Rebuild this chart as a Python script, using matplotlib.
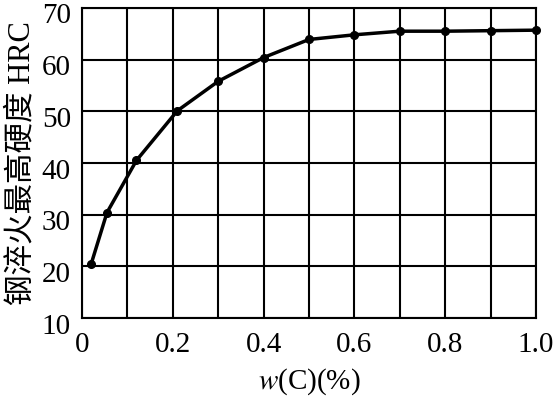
import matplotlib
matplotlib.use("Agg")
import matplotlib.pyplot as plt
from matplotlib.ticker import MultipleLocator
from matplotlib.transforms import ScaledTranslation

carbon = [0.02, 0.055, 0.12, 0.21, 0.30, 0.40, 0.50, 0.60, 0.70, 0.80, 0.90, 1.00]
hardness = [20.4, 30.4, 40.5, 50.1, 55.8, 60.4, 63.9, 64.8, 65.5, 65.5, 65.6, 65.7]
xticks = [0, 0.2, 0.4, 0.6, 0.8, 1.0]
xticklabels = ["0", "0.2", "0.4", "0.6", "0.8", "1.0"]
yticks = [10, 20, 30, 40, 50, 60, 70]

plt.rcParams['mathtext.fontset'] = 'stix'
plt.rcParams['font.family'] = ['Liberation Serif', 'Noto Sans CJK SC']

fig = plt.figure(figsize=(5.56, 3.97), dpi=100)
ax = fig.add_axes([0.1475, 0.199, 0.8165, 0.781])

ax.plot(carbon, hardness, color='black', lw=2.5, marker='o', ms=5.5, zorder=3,
        clip_on=False)

ax.set_xlim(0, 1.0)
ax.set_ylim(10, 70)
ax.set_xticks(xticks)
ax.set_xticklabels(xticklabels)
ax.xaxis.set_minor_locator(MultipleLocator(0.1))
ax.set_yticks(yticks)
ax.grid(True, which='both', color='black', lw=1.5)
ax.tick_params(which='both', length=0, labelsize=21)
ax.tick_params(axis='x', pad=10)
ax.tick_params(axis='y', pad=8)
for s in ax.spines.values():
    s.set_linewidth(1.5)

shift = ScaledTranslation(0, -4 / 72, fig.dpi_scale_trans)
for lab in ax.get_yticklabels():
    lab.set_transform(lab.get_transform() + shift)

ax.set_xlabel("$w$(C)(%)", fontsize=21, labelpad=6)
ax.set_ylabel("钢淬火最高硬度 HRC", fontsize=22, labelpad=4)

fig.savefig("out.png", dpi=100)
